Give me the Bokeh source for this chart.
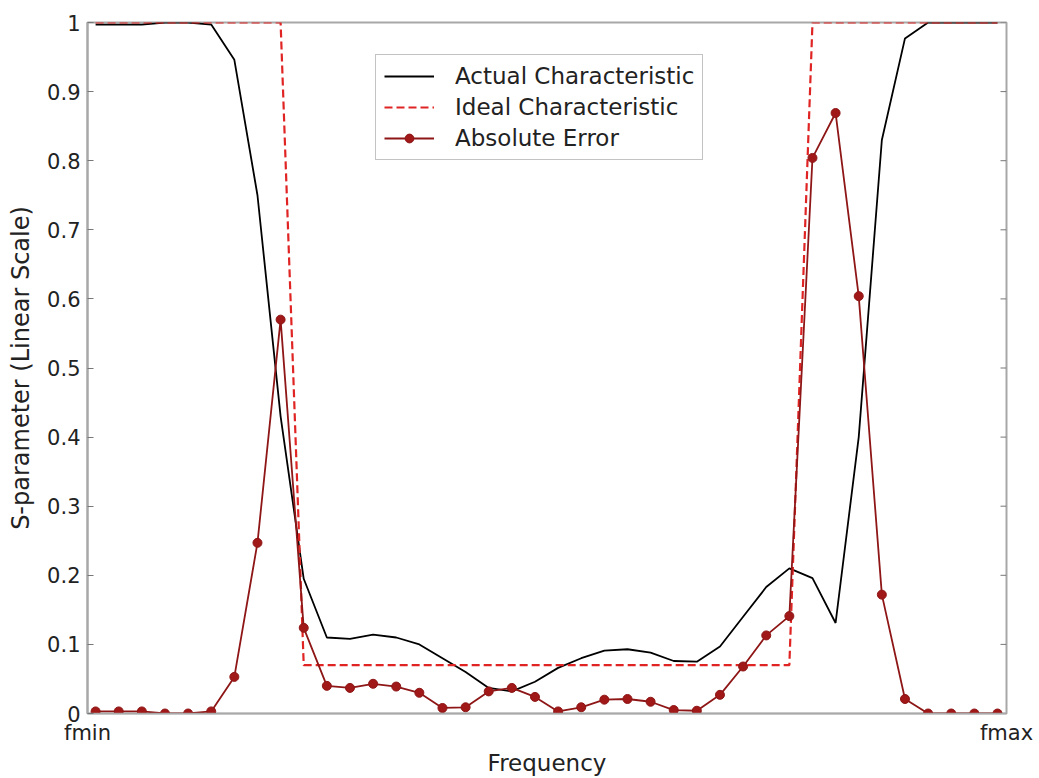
import math
from bokeh.plotting import figure
from bokeh.models import Range1d, FixedTicker, Legend, LegendItem, ColumnDataSource
from bokeh.embed import file_html
from bokeh.resources import INLINE

# ---- data ----
sample = list(range(40))  # frequency samples between fmin and fmax
actual = [0.997, 0.997, 0.997, 1.0, 1.0, 0.997, 0.946, 0.750, 0.430, 0.195,
          0.110, 0.108, 0.114, 0.110, 0.100, 0.080, 0.060, 0.037, 0.032, 0.046,
          0.066, 0.080, 0.091, 0.093, 0.088, 0.076, 0.075, 0.097, 0.140, 0.183,
          0.210, 0.196, 0.131, 0.400, 0.830, 0.977, 1.0, 1.0, 1.0, 1.0]
ideal = [1, 1, 1, 1, 1, 1, 1, 1, 1, 0.07,
         0.07, 0.07, 0.07, 0.07, 0.07, 0.07, 0.07, 0.07, 0.07, 0.07,
         0.07, 0.07, 0.07, 0.07, 0.07, 0.07, 0.07, 0.07, 0.07, 0.07,
         0.07, 1, 1, 1, 1, 1, 1, 1, 1, 1]
abs_error = [0.003, 0.003, 0.003, 0.0, 0.0, 0.003, 0.053, 0.247, 0.570, 0.124,
             0.040, 0.037, 0.043, 0.039, 0.030, 0.008, 0.009, 0.032, 0.037, 0.024,
             0.003, 0.009, 0.020, 0.021, 0.017, 0.005, 0.004, 0.027, 0.068, 0.113,
             0.141, 0.804, 0.869, 0.604, 0.172, 0.021, 0.0, 0.0, 0.0, 0.0]
x_min, x_max = -0.35, 39.39
x_tick_labels = ["fmin", "fmax"]
y_ticks = [0, 0.1, 0.2, 0.3, 0.4, 0.5, 0.6, 0.7, 0.8, 0.9, 1]
y_tick_labels = ["0", "0.1", "0.2", "0.3", "0.4", "0.5", "0.6", "0.7", "0.8", "0.9", "1"]
series_names = ["Actual Characteristic", "Ideal Characteristic", "Absolute Error"]

FONT = "DejaVu Sans"
AXIS_GRAY = "#a8a8a8"
TICK_GRAY = "#777777"

src = ColumnDataSource(dict(x=sample, actual=actual, ideal=ideal, err=abs_error))

p = figure(width=1039, height=778, output_backend="svg", toolbar_location=None,
           x_range=Range1d(x_min, x_max), y_range=Range1d(0, 1),
           min_border_left=87, min_border_right=33, min_border_top=22, min_border_bottom=65)
p.background_fill_color = "white"
p.border_fill_color = "white"
p.outline_line_color = AXIS_GRAY
p.outline_line_width = 2
p.xgrid.visible = False
p.ygrid.visible = False

# inward tick marks on the right edge of the box (mirroring the left axis ticks)
p.ray(x=[x_max] * len(y_ticks), y=y_ticks, length=6, length_units="screen",
      angle=math.pi, line_color=TICK_GRAY, line_width=1)

r1 = p.line("x", "actual", source=src, line_color="black", line_width=1.8)
r2 = p.line("x", "ideal", source=src, line_color="#e02424", line_width=2.2, line_dash="8 4")
r3 = p.line("x", "err", source=src, line_color="#8e1616", line_width=1.8)
r4 = p.scatter("x", "err", source=src, size=9, marker="circle",
               fill_color="#a01818", line_color="#8e1616")

# x axis
xa = p.xaxis[0]
xa.ticker = FixedTicker(ticks=[x_min, x_max])
xa.major_label_overrides = {x_min: x_tick_labels[0], x_max: x_tick_labels[1]}
xa.minor_tick_line_color = None
xa.major_tick_in = 0
xa.major_tick_out = 0
xa.axis_line_color = AXIS_GRAY
xa.axis_line_width = 1.5
xa.major_label_text_font = FONT
xa.major_label_text_font_size = "21px"
xa.major_label_text_color = "#222222"
xa.major_label_standoff = 7
xa.axis_label = "Frequency"
xa.axis_label_text_font = FONT
xa.axis_label_text_font_size = "23px"
xa.axis_label_text_font_style = "normal"
xa.axis_label_text_color = "#222222"
xa.axis_label_standoff = 2

# y axis
ya = p.yaxis[0]
ya.ticker = FixedTicker(ticks=y_ticks)
ya.major_label_overrides = dict(zip(y_ticks, y_tick_labels))
ya.minor_tick_line_color = None
ya.major_tick_in = 6
ya.major_tick_out = 0
ya.major_tick_line_color = TICK_GRAY
ya.axis_line_color = AXIS_GRAY
ya.axis_line_width = 2
ya.major_label_text_font = FONT
ya.major_label_text_font_size = "21px"
ya.major_label_text_color = "#222222"
ya.major_label_standoff = 7
ya.axis_label = "S-parameter (Linear Scale)"
ya.axis_label_text_font = FONT
ya.axis_label_text_font_size = "24px"
ya.axis_label_text_font_style = "normal"
ya.axis_label_text_color = "#222222"
ya.axis_label_standoff = 9

legend = Legend(items=[LegendItem(label=series_names[0], renderers=[r1]),
                       LegendItem(label=series_names[1], renderers=[r2]),
                       LegendItem(label=series_names[2], renderers=[r3, r4])],
                location=(288, 553), margin=0, padding=8, spacing=5,
                label_height=22, glyph_height=22, glyph_width=50, label_standoff=21,
                label_text_font=FONT, label_text_font_size="23px", label_text_color="#222222",
                border_line_color="#888888", border_line_width=1,
                background_fill_color="white", background_fill_alpha=1)
p.add_layout(legend)

open("out.html", "w").write(file_html(p, INLINE))
